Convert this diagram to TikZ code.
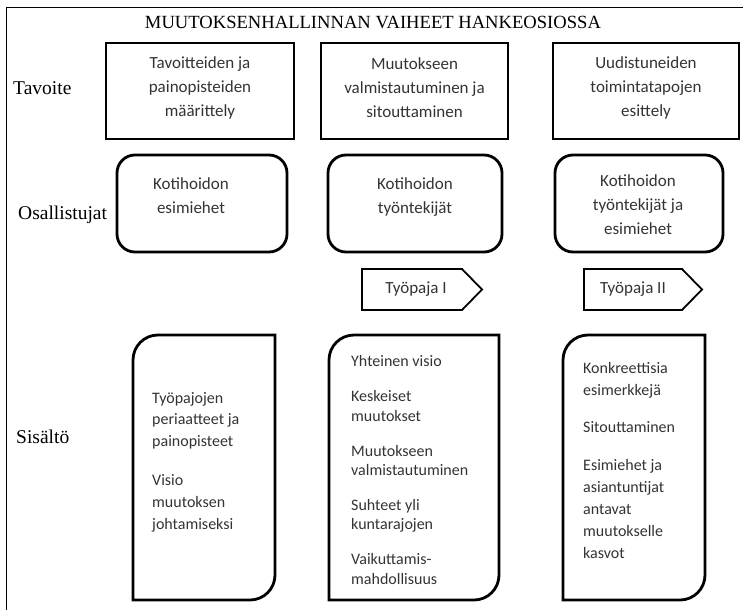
\documentclass[tikz,border=0pt]{standalone}
\usepackage{fontspec}
\setmainfont{Liberation Serif}
\newfontfamily\boxfont{Carlito}
\tikzset{
  frameline/.style={line width=1pt},
  lbl/.style={font=\fontsize{19.5}{22}\selectfont, anchor=base west, inner sep=0pt},
  goalbox/.style={draw, line width=2.8pt, inner sep=0pt},
  partbox/.style={draw, line width=2.8pt, rounded corners=18pt, inner sep=0pt},
  boxtext/.style={font=\boxfont\fontsize{17}{24}\selectfont, text=black!80, align=center, inner sep=0pt},
  arrowtext/.style={font=\boxfont\fontsize{17}{20}\selectfont, text=black!80, inner sep=0pt},
  arrowline/.style={line width=1.8pt, line join=miter},
  sisline/.style={line width=2.8pt},
  sistext/.style={font=\boxfont\fontsize{16}{#1}\selectfont, text=black!80, align=left, anchor=base west, inner sep=0pt},
}
\newcommand\sisboxpath[5]{%
  \draw[sisline] (#1,#4) -- (#1,#2+#5) .. controls (#1,#2+0.448*#5) and (#1+0.448*#5,#2) .. (#1+#5,#2)
    -- (#3,#2) -- (#3,#4-#5) .. controls (#3,#4-0.448*#5) and (#3-0.448*#5,#4) .. (#3-#5,#4) -- cycle;}
\begin{document}
\begin{tikzpicture}[x=1pt,y=-1pt]
\useasboundingbox (0,0) rectangle (743,610);
% frame
\coordinate (fbl) at (6,610);
\coordinate (ftl) at (6,8);
\coordinate (ftr) at (743,8);
\draw[frameline] (fbl) -- (ftl) -- (ftr);
% title
\node[font=\fontsize{18.6}{20}\selectfont, inner sep=0pt] (title) at (373,22) {MUUTOKSENHALLINNAN VAIHEET HANKEOSIOSSA};
% row labels
\node[lbl] (lt) at (13,94) {Tavoite};
\node[lbl] (lo) at (18,219) {Osallistujat};
\node[lbl] (ls) at (16,443) {Sisältö};
% row 1
\node[goalbox, minimum width=188pt, minimum height=96pt] (g1) at (200,91) {};
\node[goalbox, minimum width=187pt, minimum height=96pt] (g2) at (414.5,91) {};
\node[goalbox, minimum width=186pt, minimum height=96pt] (g3) at (646,91) {};
\node[boxtext] (g1t) at (200,88) {Tavoitteiden ja\\painopisteiden\\määrittely};
\node[boxtext] (g2t) at (414.5,88) {Muutokseen\\valmistautuminen ja\\sitouttaminen};
\node[boxtext] (g3t) at (646,88) {Uudistuneiden\\toimintatapojen\\esittely};
% row 2
\node[partbox, minimum width=170pt, minimum height=97pt] (p1) at (202,203.5) {};
\node[partbox, minimum width=174pt, minimum height=97pt] (p2) at (415,203.5) {};
\node[partbox, minimum width=168pt, minimum height=97pt] (p3) at (639,203.5) {};
\node[boxtext] (p1t) at (191,196) {Kotihoidon\\esimiehet};
\node[boxtext] (p2t) at (415,197) {Kotihoidon\\työntekijät};
\node[boxtext] (p3t) at (638,205) {Kotihoidon\\työntekijät ja\\esimiehet};
% workshop arrows
\draw[arrowline] (362,269) -- (462,269) -- (482,289.5) -- (462,310) -- (362,310) -- cycle;
\node[arrowtext] (a1) at (416,289) {Työpaja I};
\draw[arrowline] (584,269) -- (682,269) -- (702,289.5) -- (682,310) -- (584,310) -- cycle;
\node[arrowtext] (a2) at (633,289) {Työpaja II};
% content boxes
\sisboxpath{133}{335}{275}{600}{25}
\sisboxpath{329}{335}{499}{600}{25}
\sisboxpath{563}{335}{705}{600}{25}
\node[sistext=21.7] (s1) at (152,529) {Työpajojen\\periaatteet ja\\painopisteet\\[17.3pt]Visio\\muutoksen\\johtamiseksi};
\node[sistext=19.3] (s2) at (351,584) {Yhteinen visio\\[15.7pt]Keskeiset\\muutokset\\[15.7pt]Muutokseen\\valmistautuminen\\[15.7pt]Suhteet yli\\kuntarajojen\\[15.7pt]Vaikuttamis-\\mahdollisuus};
\node[sistext=22] (s3) at (583,558) {Konkreettisia\\esimerkkejä\\[15.5pt]Sitouttaminen\\[15.5pt]Esimiehet ja\\asiantuntijat\\antavat\\muutokselle\\kasvot};
\end{tikzpicture}
\end{document}
